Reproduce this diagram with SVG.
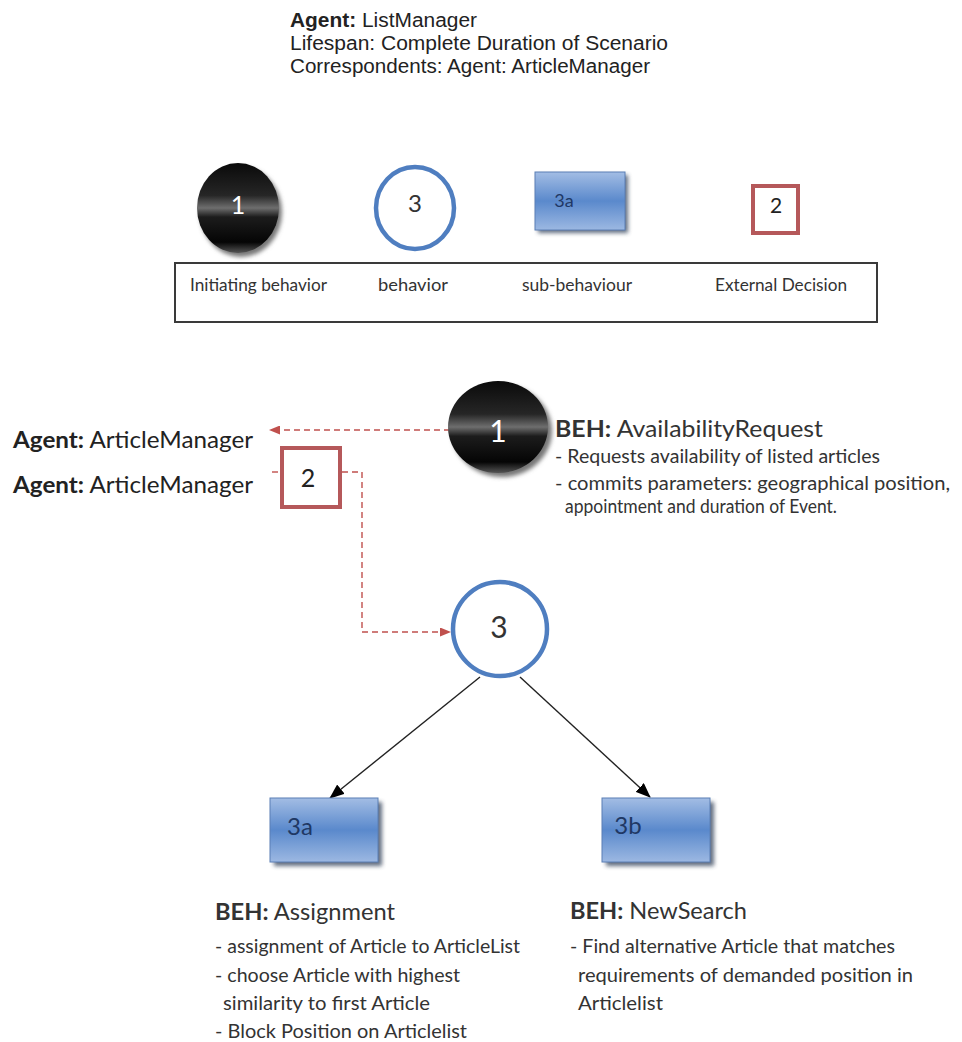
<svg xmlns="http://www.w3.org/2000/svg" width="962" height="1042" viewBox="0 0 962 1042">
<defs>
<linearGradient id="gBlack" x1="0" y1="0" x2="0" y2="1">
<stop offset="0" stop-color="#0a0a0a"/>
<stop offset="0.36" stop-color="#262626"/>
<stop offset="0.5" stop-color="#6e6e6e"/>
<stop offset="0.6" stop-color="#1c1c1c"/>
<stop offset="0.88" stop-color="#050505"/>
<stop offset="1" stop-color="#555"/>
</linearGradient>
<linearGradient id="gBlue" x1="0" y1="0" x2="0" y2="1">
<stop offset="0" stop-color="#a3bde4"/>
<stop offset="0.5" stop-color="#5a89cc"/>
<stop offset="1" stop-color="#9cb8e2"/>
</linearGradient>
<filter id="blur" x="-20%" y="-20%" width="140%" height="140%"><feGaussianBlur stdDeviation="2"/></filter>
<marker id="mRed" markerWidth="11" markerHeight="9" refX="10" refY="4.5" orient="auto" markerUnits="userSpaceOnUse">
<path d="M0,0 L11,4.5 L0,9 Z" fill="#c0504d"/>
</marker>
<marker id="mBlack" markerWidth="15" markerHeight="12" refX="14" refY="6" orient="auto" markerUnits="userSpaceOnUse">
<path d="M0,0 L15,6 L0,12 Z" fill="#000"/>
</marker>
</defs>
<style>
.hdr{font-family:"Liberation Sans",Arial,sans-serif;font-size:20px;fill:#222}
.cal{font-family:Lato,"Open Sans",sans-serif;fill:#333}
.leg{font-size:16.5px}
.beh{font-size:23px}
.sm{font-size:18.5px}
.agent{font-size:23px;fill:#222}
.red{fill:#fff;stroke:#b5585a;stroke-width:4}
.circ{fill:#fff;stroke:#4f7ec0;stroke-width:4.5}
.box{fill:url(#gBlue);stroke:#5a7fb5;stroke-width:1}
.shadow{fill:#3a4a60;opacity:0.8}
.num{font-family:Lato,"Open Sans",sans-serif;text-anchor:middle}
.dash{fill:none;stroke:#c0504d;stroke-width:1.4;stroke-dasharray:6,4}
.solid{fill:none;stroke:#222;stroke-width:1.4}
</style>
<rect width="962" height="1042" fill="#fff"/>

<g id="header">
<text class="hdr" x="290" y="27" textLength="187" lengthAdjust="spacingAndGlyphs"><tspan font-weight="bold">Agent:</tspan> ListManager</text>
<text class="hdr" x="290" y="50" textLength="378" lengthAdjust="spacingAndGlyphs">Lifespan: Complete Duration of Scenario</text>
<text class="hdr" x="290" y="73" textLength="360" lengthAdjust="spacingAndGlyphs">Correspondents: Agent: ArticleManager</text>
</g>

<g id="legend">
<rect x="175" y="263" width="702" height="59" fill="none" stroke="#3a3a3a" stroke-width="2"/>
<g id="leg-initiating">
<ellipse cx="241" cy="212" rx="41" ry="45" fill="#777" filter="url(#blur)"/>
<ellipse cx="238" cy="208" rx="41" ry="45" fill="url(#gBlack)"/>
<text class="num" x="238" y="214" font-size="25" fill="#fff">1</text>
</g>
<g id="leg-behavior">
<ellipse class="circ" cx="415" cy="208" rx="39" ry="41" stroke-width="3.5"/>
<text class="num" x="415" y="212" font-size="24" fill="#333">3</text>
</g>
<g id="leg-sub">
<rect class="shadow" x="538" y="175" width="90" height="58" filter="url(#blur)"/>
<rect class="box" x="535" y="172" width="90" height="58"/>
<text class="num" x="564" y="207" font-size="18" fill="#1f3864">3a</text>
</g>
<g id="leg-external">
<rect class="red" x="753" y="186" width="45" height="47" stroke-width="3.5"/>
<text class="num" x="776" y="213" font-size="21" fill="#222">2</text>
</g>
<text class="cal leg" x="190" y="291" textLength="137" lengthAdjust="spacingAndGlyphs">Initiating behavior</text>
<text class="cal leg" x="378" y="291" textLength="70" lengthAdjust="spacingAndGlyphs">behavior</text>
<text class="cal leg" x="522" y="291" textLength="110" lengthAdjust="spacingAndGlyphs">sub-behaviour</text>
<text class="cal leg" x="715" y="291" textLength="132" lengthAdjust="spacingAndGlyphs">External Decision</text>
</g>

<g id="connectors">
<line class="dash" x1="450" y1="430" x2="270" y2="430" marker-end="url(#mRed)"/>
<line class="dash" x1="272" y1="472" x2="280" y2="472"/>
<polyline class="dash" points="342,472 362,472 362,632 450,632" marker-end="url(#mRed)"/>
<line class="solid" x1="480" y1="677" x2="330" y2="798" marker-end="url(#mBlack)"/>
<line class="solid" x1="520" y1="677" x2="650" y2="797" marker-end="url(#mBlack)"/>
</g>

<g id="agent1">
<text class="cal agent" x="13" y="448" textLength="240" lengthAdjust="spacingAndGlyphs"><tspan font-weight="bold">Agent:</tspan> ArticleManager</text>
</g>
<g id="agent2">
<text class="cal agent" x="13" y="493" textLength="240" lengthAdjust="spacingAndGlyphs"><tspan font-weight="bold">Agent:</tspan> ArticleManager</text>
</g>

<g id="node1">
<ellipse cx="502" cy="431" rx="50" ry="46" fill="#777" filter="url(#blur)"/>
<ellipse cx="498" cy="427" rx="50" ry="46" fill="url(#gBlack)"/>
<text class="num" x="498" y="442" font-size="30" fill="#fff">1</text>
<text class="cal beh" x="555" y="437" textLength="268" lengthAdjust="spacingAndGlyphs"><tspan font-weight="bold">BEH:</tspan>  AvailabilityRequest</text>
<text class="cal sm" x="555" y="463" textLength="325" lengthAdjust="spacingAndGlyphs">- Requests availability of listed articles</text>
<text class="cal sm" x="555" y="490" textLength="395" lengthAdjust="spacingAndGlyphs">- commits parameters: geographical position,</text>
<text class="cal sm" x="565" y="513" textLength="272" lengthAdjust="spacingAndGlyphs">appointment and duration of Event.</text>
</g>

<g id="node2">
<rect class="red" x="282" y="448" width="58" height="59"/>
<text class="num" x="308" y="487" font-size="25" fill="#222">2</text>
</g>

<g id="node3">
<circle class="circ" cx="500" cy="629" r="47"/>
<text class="num" x="499" y="638" font-size="30" fill="#333">3</text>
</g>

<g id="node3a">
<rect class="shadow" x="274" y="802" width="108" height="64" filter="url(#blur)"/>
<rect class="box" x="270" y="798" width="108" height="64"/>
<text class="num" x="300" y="835" font-size="24" fill="#1f3864">3a</text>
<text class="cal beh" x="215" y="920" textLength="180" lengthAdjust="spacingAndGlyphs"><tspan font-weight="bold">BEH:</tspan>  Assignment</text>
<text class="cal sm" x="215" y="953" textLength="305" lengthAdjust="spacingAndGlyphs">- assignment of Article to ArticleList</text>
<text class="cal sm" x="215" y="982" textLength="245" lengthAdjust="spacingAndGlyphs">- choose Article with highest</text>
<text class="cal sm" x="223" y="1010" textLength="207" lengthAdjust="spacingAndGlyphs">similarity to first Article</text>
<text class="cal sm" x="215" y="1038" textLength="252" lengthAdjust="spacingAndGlyphs">- Block Position on Articlelist</text>
</g>

<g id="node3b">
<rect class="shadow" x="606" y="802" width="108" height="64" filter="url(#blur)"/>
<rect class="box" x="602" y="798" width="108" height="64"/>
<text class="num" x="628" y="834" font-size="24" fill="#1f3864">3b</text>
<text class="cal beh" x="570" y="919" textLength="177" lengthAdjust="spacingAndGlyphs"><tspan font-weight="bold">BEH:</tspan>  NewSearch</text>
<text class="cal sm" x="570" y="953" textLength="325" lengthAdjust="spacingAndGlyphs">- Find alternative Article that matches</text>
<text class="cal sm" x="578" y="982" textLength="335" lengthAdjust="spacingAndGlyphs">requirements of demanded position in</text>
<text class="cal sm" x="578" y="1010" textLength="85" lengthAdjust="spacingAndGlyphs">Articlelist</text>
</g>
</svg>
